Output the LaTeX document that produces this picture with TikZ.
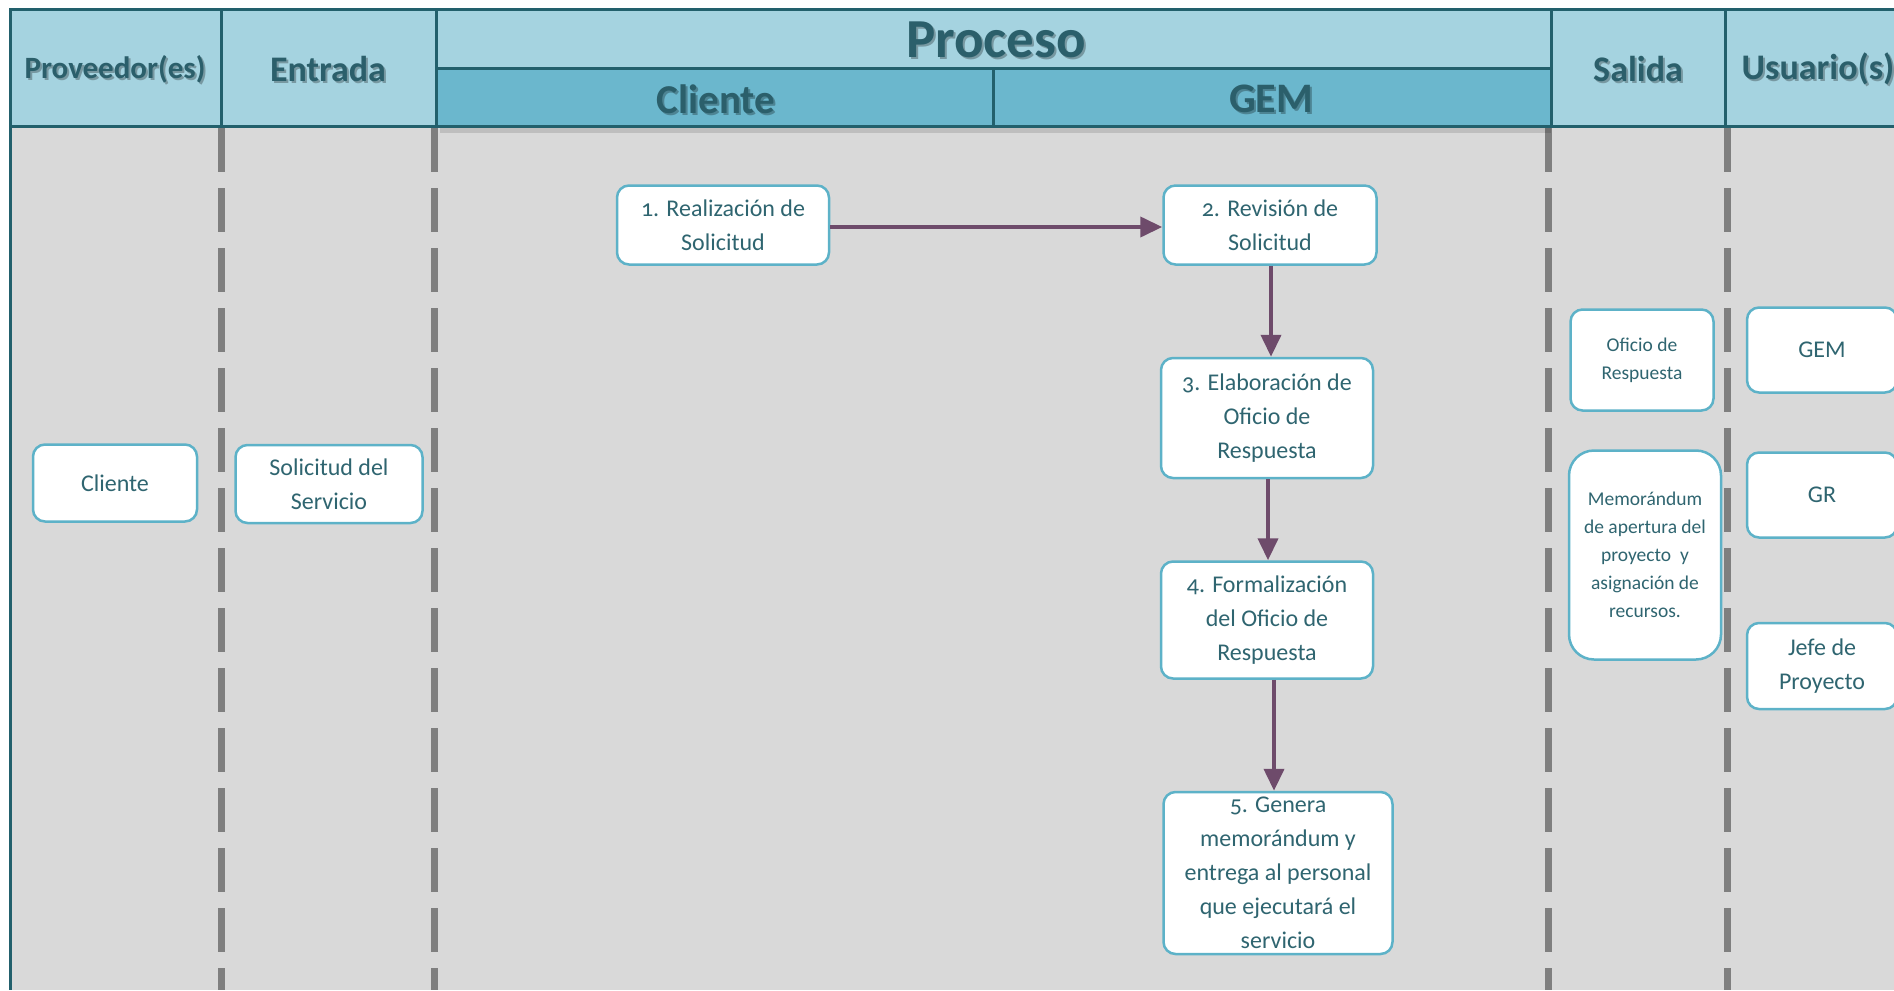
\documentclass[tikz,border=0pt]{standalone}
\usepackage{fontspec}
\setmainfont{Carlito}[Numbers=OldStyle]
\usetikzlibrary{arrows.meta}
\definecolor{headlight}{HTML}{A5D3E0}
\definecolor{headdark}{HTML}{6BB7CD}
\definecolor{headline}{HTML}{22606C}
\definecolor{headtext}{HTML}{2B5F6B}
\definecolor{bodygray}{HTML}{D9D9D9}
\definecolor{dashgray}{HTML}{7F7F7F}
\definecolor{boxc}{HTML}{5DB2C8}
\definecolor{txtc}{HTML}{2F6570}
\definecolor{arrowc}{HTML}{6E4B6B}
\tikzset{
  hdbox/.style={draw=headline, line width=3pt},
  lane/.style={draw=dashgray, line width=7pt, dash pattern=on 44pt off 16pt},
  hdtxt/.style={text=headtext, font=\bfseries\fontsize{#1}{#1}\selectfont, inner sep=0pt},
  hdshadow/.style={text=black, opacity=0.28, font=\bfseries\fontsize{#1}{#1}\selectfont, inner sep=0pt},
  stepbox/.style={draw=boxc, fill=white, line width=2.5pt, rounded corners=12pt, align=center,
    text=txtc, font=\fontsize{24}{34}\selectfont, inner sep=0pt},
  smallbox/.style={stepbox, font=\fontsize{19.5}{28}\selectfont},
  arr/.style={draw=arrowc, line width=4pt, -{Triangle[length=22pt,width=20pt]}}
}
\begin{document}
\begin{tikzpicture}[x=1pt,y=-1pt]
\useasboundingbox (0,0) rectangle (1894,990);
\fill[white] (0,0) rectangle (1894,990);
% body
\fill[bodygray] (10,126) rectangle (1894,990);
\draw[headline, line width=3pt] (10,126) -- (10,990);
% lane separators
\draw[lane] (221,128) -- (221,990);
\draw[lane] (434,128) -- (434,990);
\draw[lane] (1548,128) -- (1548,990);
\draw[lane] (1727,128) -- (1727,990);
% header shadow under Proceso
\fill[black, opacity=0.12] (440,127) rectangle (1551,133);
% header boxes
\draw[hdbox, fill=headlight] (10,10) rectangle (221,126);
\draw[hdbox, fill=headlight] (221,10) rectangle (436,126);
\draw[hdbox, fill=headlight] (436,10) rectangle (1551,68);
\draw[hdbox, fill=headdark] (436,68) rectangle (1551,126);
\draw[hdbox] (993,68) -- (993,126);
\draw[hdbox, fill=headlight] (1551,10) rectangle (1725,126);
\draw[hdbox, fill=headlight] (1725,10) rectangle (1915,126);
% header texts
\node[hdshadow=31] (sProv) at (117,71) {Proveedor(es)};
\node[hdtxt=31] (tProv) at (115,69) {Proveedor(es)};
\node[hdshadow=36] (sEnt) at (330,71) {Entrada};
\node[hdtxt=36] (tEnt) at (328,69) {Entrada};
\node[hdshadow=55] (sProc) at (998,42) {Proceso};
\node[hdtxt=55] (tProc) at (996,40) {Proceso};
\node[hdshadow=41] (sCli) at (718,101) {Cliente};
\node[hdtxt=41] (tCli) at (716,99) {Cliente};
\node[hdshadow=42] (sGem) at (1273,101) {GEM};
\node[hdtxt=42] (tGem) at (1271,99) {GEM};
\node[hdshadow=36] (sSal) at (1640,71) {Salida};
\node[hdtxt=36] (tSal) at (1638,69) {Salida};
\node[hdshadow=36] (sUsu) at (1820,71) {Usuario(s)};
\node[hdtxt=36] (tUsu) at (1818,69) {Usuario(s)};
% nodes
\node[stepbox, minimum width=164pt, minimum height=77pt] (cli) at (115,483) {Cliente};
\node[stepbox, minimum width=187pt, minimum height=78pt] (sol) at (329,484) {Solicitud del\\Servicio};
\node[stepbox, minimum width=212pt, minimum height=79pt] (n1) at (723,225) {1. Realización de\\Solicitud};
\node[stepbox, minimum width=213pt, minimum height=79pt] (n2) at (1270,225) {2. Revisión de\\Solicitud};
\node[stepbox, minimum width=212pt, minimum height=120pt] (n3) at (1267,418) {3. Elaboración de\\Oficio de\\Respuesta};
\node[stepbox, minimum width=212pt, minimum height=117pt] (n4) at (1267,620) {4. Formalización\\del Oficio de\\Respuesta};
\node[stepbox, minimum width=229pt, minimum height=162pt] (n5) at (1278,873) {5. Genera\\memorándum y\\entrega al personal\\que ejecutará el\\servicio};
\node[smallbox, minimum width=143pt, minimum height=101pt] (ofi) at (1642,360) {Oficio de\\Respuesta};
\node[smallbox, rounded corners=25pt, minimum width=152pt, minimum height=209pt] (memo) at (1645,555) {Memorándum\\de apertura del\\proyecto\ \ y\\asignación de\\recursos.};
\node[stepbox, minimum width=150pt, minimum height=85pt] (uGem) at (1822,350) {GEM};
\node[stepbox, minimum width=150pt, minimum height=85pt] (uGr) at (1822,495) {GR};
\node[stepbox, minimum width=150pt, minimum height=86pt] (uJefe) at (1822,666) {Jefe de\\Proyecto};
% arrows
\draw[arr] ([yshift=-2pt]n1.east) -- ([yshift=-2pt]n2.west);
\draw[arr] ([xshift=1pt]n2.south) -- ([xshift=1pt]n2.south |- n3.north);
\draw[arr] ([xshift=1pt]n3.south) -- ([xshift=1pt]n3.south |- n4.north);
\draw[arr] ([xshift=7pt]n4.south) -- ([xshift=7pt]n4.south |- n5.north);
\end{tikzpicture}
\end{document}
